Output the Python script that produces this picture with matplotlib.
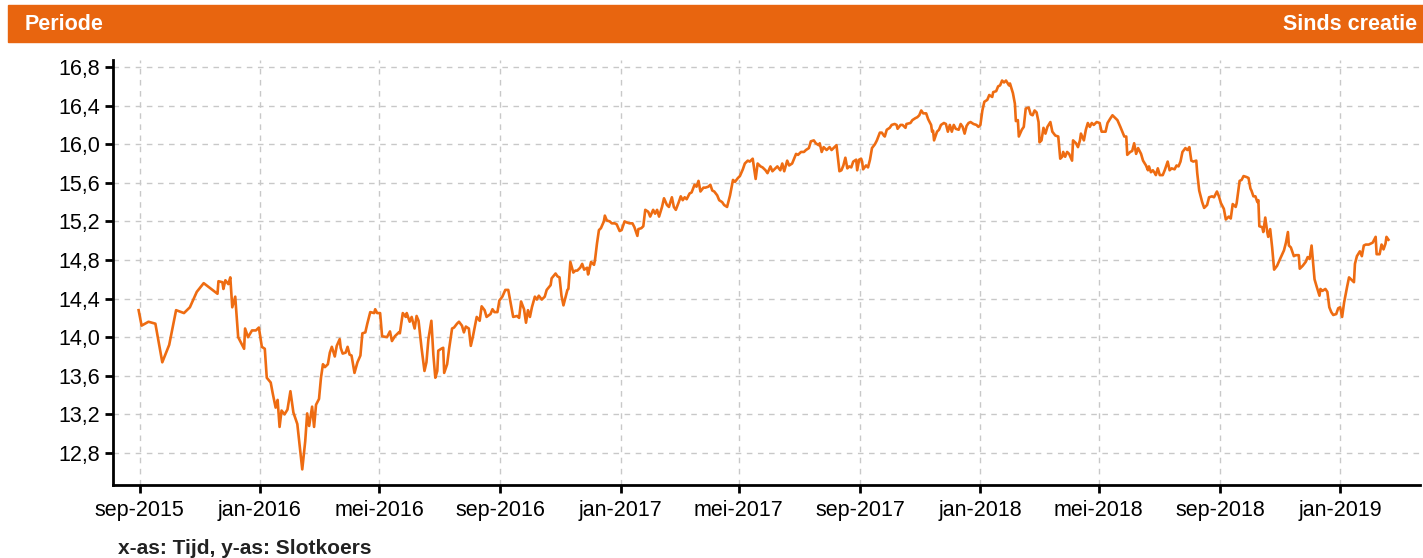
import numpy as np
import pandas as pd
import matplotlib
matplotlib.use("Agg")
import matplotlib.pyplot as plt
from matplotlib.ticker import FuncFormatter

plt.rcParams["font.family"] = ["Liberation Sans", "DejaVu Sans"]

# koersdata, dagen gerekend vanaf 1 september 2015
start = pd.Timestamp("2015-09-01")
day_offset = [
    -1, 2, 9, 16, 23, 30, 37, 45, 51, 58, 65, 79, 80, 84, 85, 87, 90, 92, 94, 97,
    100, 106, 107, 110, 114, 118, 121, 124, 127, 129, 133, 135, 138, 140, 142, 144,
    147, 150, 153, 156, 160, 162, 165, 168, 170, 172, 175, 177, 179, 182, 184, 186,
    188, 191, 193, 195, 198, 200, 203, 204, 206, 209, 211, 213, 215, 218, 221, 224,
    226, 229, 231, 234, 238, 239, 241, 244, 246, 251, 254, 256, 259, 263, 264, 267,
    270, 271, 274, 276, 279, 281, 283, 286, 289, 291, 293, 296, 298, 300, 302, 303,
    306, 308, 309, 312, 314, 317, 319, 322, 324, 327, 329, 331, 334, 336, 338, 342,
    345, 347, 350, 352, 356, 358, 360, 363, 365, 368, 371, 374, 376, 379, 383, 385,
    387, 390, 392, 394, 396, 398, 401, 403, 405, 408, 411, 413, 417, 418, 422, 424,
    426, 428, 430, 434, 435, 437, 440, 442, 444, 447, 449, 451, 454, 455, 458, 461,
    462, 464, 466, 468, 471, 472, 474, 477, 479, 482, 484, 487, 489, 492, 494, 497,
    500, 502, 505, 506, 509, 511, 513, 516, 518, 521, 523, 525, 527, 530, 532, 535,
    537, 540, 542, 544, 547, 549, 551, 553, 555, 558, 560, 563, 565, 567, 569, 572,
    574, 577, 579, 581, 583, 586, 588, 591, 593, 596, 599, 602, 604, 607, 609, 612,
    614, 617, 619, 622, 625, 627, 630, 632, 635, 637, 640, 642, 645, 647, 650, 652,
    654, 657, 659, 662, 664, 666, 668, 671, 674, 676, 679, 681, 684, 686, 689, 690,
    692, 694, 697, 700, 702, 705, 707, 710, 712, 714, 716, 718, 720, 722, 724, 727,
    728, 730, 732, 733, 734, 737, 739, 741, 743, 746, 748, 751, 753, 755, 756, 758,
    761, 763, 766, 768, 769, 772, 774, 777, 778, 782, 784, 787, 789, 791, 793, 795,
    798, 800, 803, 804, 805, 806, 809, 811, 813, 816, 818, 820, 822, 824, 826, 828,
    831, 833, 835, 837, 839, 841, 843, 846, 849, 851, 853, 855, 857, 860, 862, 865,
    866, 869, 871, 873, 875, 877, 879, 882, 883, 886, 888, 889, 891, 892, 895, 897,
    899, 902, 904, 906, 908, 910, 912, 913, 915, 917, 919, 921, 924, 926, 929, 932,
    934, 936, 937, 939, 941, 943, 946, 947, 950, 952, 954, 955, 958, 960, 962, 964,
    966, 968, 971, 974, 976, 980, 982, 985, 987, 990, 992, 995, 997, 999, 1001, 1002,
    1005, 1007, 1009, 1011, 1013, 1016, 1018, 1021, 1023, 1024, 1026, 1028, 1030, 1031,
    1033, 1035, 1038, 1040, 1043, 1045, 1047, 1050, 1052, 1054, 1056, 1058, 1061, 1063,
    1065, 1067, 1069, 1072, 1073, 1075, 1078, 1080, 1083, 1085, 1088, 1090, 1093, 1095,
    1097, 1100, 1102, 1105, 1107, 1109, 1112, 1113, 1116, 1118, 1120, 1123, 1125, 1127,
    1128, 1130, 1132, 1134, 1135, 1136, 1139, 1140, 1142, 1144, 1145, 1147, 1149, 1151,
    1154, 1157, 1161, 1163, 1165, 1166, 1168, 1171, 1173, 1176, 1177, 1180, 1183, 1185,
    1187, 1189, 1190, 1192, 1194, 1197, 1198, 1200, 1203, 1205, 1207, 1209, 1211, 1214,
    1216, 1218, 1220, 1222, 1225, 1227, 1229, 1232, 1233, 1235, 1238, 1240, 1242, 1244,
    1247, 1249, 1251, 1254, 1255, 1258, 1260, 1262, 1264, 1265, 1267,
]
slotkoers = [
    14.28, 14.12, 14.16, 14.14, 13.74, 13.92, 14.28, 14.25, 14.31, 14.47, 14.56, 14.45, 14.58, 14.57, 14.50, 14.59, 14.55, 14.62, 14.31, 14.42,
    14.00, 13.88, 14.09, 14.00, 14.07, 14.07, 14.10, 13.90, 13.88, 13.58, 13.53, 13.42, 13.27, 13.35, 13.07, 13.24,
    13.20, 13.25, 13.44, 13.22, 13.10, 12.91, 12.63, 12.92, 13.21, 13.08, 13.28, 13.07, 13.30, 13.36, 13.58, 13.72,
    13.69, 13.72, 13.84, 13.90, 13.80, 13.91, 13.98, 13.89, 13.83, 13.84, 13.90, 13.82, 13.81, 13.63, 13.74, 13.81,
    14.04, 14.05, 14.14, 14.26, 14.25, 14.29, 14.25, 14.25, 14.01, 14.00, 14.06, 13.96, 14.01, 14.05, 14.04, 14.25,
    14.21, 14.25, 14.16, 14.21, 14.09, 14.22, 14.17, 13.89, 13.65, 13.74, 13.98, 14.17, 13.82, 13.58, 13.65, 13.86,
    13.88, 13.89, 13.63, 13.72, 13.88, 14.09, 14.10, 14.14, 14.16, 14.12, 14.05, 14.11, 14.09, 13.91, 14.00, 14.21,
    14.17, 14.32, 14.28, 14.21, 14.24, 14.29, 14.26, 14.26, 14.38, 14.42, 14.49, 14.49, 14.38, 14.21, 14.22, 14.20,
    14.37, 14.29, 14.15, 14.28, 14.21, 14.31, 14.42, 14.39, 14.43, 14.39, 14.42, 14.49, 14.54, 14.61, 14.66, 14.63,
    14.62, 14.43, 14.33, 14.49, 14.50, 14.78, 14.67, 14.69, 14.69, 14.72, 14.76, 14.70, 14.72, 14.65, 14.78, 14.75,
    14.80, 14.97, 15.11, 15.13, 15.20, 15.26, 15.21, 15.20, 15.18, 15.18, 15.17, 15.10, 15.11, 15.20, 15.19, 15.18,
    15.18, 15.14, 15.05, 15.12, 15.13, 15.15, 15.32, 15.30, 15.25, 15.32, 15.28, 15.32, 15.25, 15.35, 15.44, 15.37,
    15.35, 15.45, 15.35, 15.32, 15.40, 15.46, 15.42, 15.45, 15.43, 15.49, 15.50, 15.58, 15.56, 15.62, 15.51, 15.55,
    15.55, 15.56, 15.58, 15.52, 15.51, 15.47, 15.42, 15.40, 15.37, 15.35, 15.47, 15.63, 15.61, 15.65, 15.67, 15.74,
    15.80, 15.83, 15.82, 15.85, 15.64, 15.80, 15.77, 15.76, 15.73, 15.70, 15.77, 15.72, 15.75, 15.77, 15.73, 15.80,
    15.72, 15.83, 15.78, 15.80, 15.85, 15.90, 15.89, 15.92, 15.92, 15.94, 15.96, 16.03, 16.04, 16.01, 15.99, 16.01,
    15.92, 15.97, 15.94, 15.97, 15.94, 15.97, 15.99, 15.72, 15.73, 15.78, 15.86, 15.75, 15.77, 15.76, 15.82, 15.84,
    15.73, 15.84, 15.85, 15.82, 15.74, 15.78, 15.76, 15.84, 15.96, 16.00, 16.04, 16.12, 16.12, 16.09, 16.08, 16.15,
    16.17, 16.20, 16.21, 16.20, 16.16, 16.20, 16.20, 16.17, 16.21, 16.22, 16.25, 16.27, 16.28, 16.30, 16.35, 16.32,
    16.32, 16.26, 16.20, 16.13, 16.14, 16.04, 16.13, 16.15, 16.20, 16.22, 16.21, 16.13, 16.20, 16.13, 16.20, 16.16,
    16.15, 16.21, 16.18, 16.11, 16.19, 16.22, 16.23, 16.21, 16.20, 16.18, 16.20, 16.35, 16.44, 16.46, 16.51, 16.49,
    16.54, 16.55, 16.60, 16.61, 16.66, 16.64, 16.66, 16.61, 16.63, 16.53, 16.42, 16.24, 16.25, 16.08, 16.15, 16.18,
    16.37, 16.38, 16.31, 16.30, 16.35, 16.33, 16.23, 16.02, 16.04, 16.17, 16.11, 16.18, 16.23, 16.13, 16.09, 16.08,
    15.85, 15.87, 15.92, 15.87, 15.92, 15.90, 15.83, 16.04, 16.01, 15.97, 16.04, 16.11, 16.04, 16.15, 16.22, 16.18,
    16.22, 16.20, 16.23, 16.22, 16.13, 16.13, 16.22, 16.27, 16.30, 16.27, 16.25, 16.18, 16.13, 16.08, 16.08, 15.89,
    15.92, 15.93, 16.01, 15.90, 15.96, 15.90, 15.83, 15.78, 15.73, 15.77, 15.71, 15.73, 15.70, 15.68,
    15.75, 15.68, 15.68, 15.73, 15.82, 15.73, 15.75, 15.74, 15.78, 15.77, 15.82, 15.92, 15.96, 15.94,
    15.97, 15.83, 15.82, 15.83, 15.70, 15.52, 15.40, 15.34, 15.37, 15.45, 15.46, 15.45, 15.51, 15.46,
    15.39, 15.33, 15.22, 15.25, 15.23, 15.38, 15.35, 15.39, 15.62, 15.63, 15.67, 15.66, 15.65, 15.54,
    15.52, 15.46, 15.46, 15.40, 15.42, 15.15, 15.14, 15.09, 15.24, 15.09, 15.04, 15.12, 14.93, 14.70,
    14.74, 14.81, 14.90, 14.98, 15.09, 14.95, 14.93, 14.84, 14.85, 14.85, 14.71, 14.74, 14.78, 14.83,
    14.81, 14.95, 14.83, 14.60, 14.53, 14.43, 14.50, 14.48, 14.50, 14.47, 14.31, 14.26, 14.23, 14.24,
    14.30, 14.31, 14.21, 14.36, 14.52, 14.62, 14.60, 14.57, 14.76, 14.84, 14.89, 14.84, 14.95, 14.96,
    14.96, 14.97, 14.98, 15.04, 14.86, 14.86, 14.96, 14.91, 14.97, 15.04, 15.01,
]

y_ticks = [12.8, 13.2, 13.6, 14.0, 14.4, 14.8, 15.2, 15.6, 16.0, 16.4, 16.8]
x_ticks = pd.date_range("2015-09-01", "2019-01-01", freq="4MS")
maanden = {1: "jan", 5: "mei", 9: "sep"}

datum = start + pd.to_timedelta(day_offset, unit="D")
oranje = "#e8650f"

fig = plt.figure(figsize=(14.23, 5.58), dpi=100)

# kopbalk
fig.patches.append(plt.Rectangle((8 / 1423, 1 - 42 / 558), 1 - 8 / 1423, 37 / 558,
                                 transform=fig.transFigure, color=oranje, zorder=0))
fig.text(25 / 1423, 1 - 24 / 558, "Periode", color="white", fontsize=15.5,
         fontweight="bold", va="center", ha="left")
fig.text(1417 / 1423, 1 - 24 / 558, "Sinds creatie", color="white", fontsize=15.5,
         fontweight="bold", va="center", ha="right")

ax = fig.add_axes([113 / 1423, 73 / 558, 1307 / 1423, 425 / 558])
ax.plot(datum, slotkoers, color="#ee6c12", lw=1.9, zorder=3)

ax.set_ylim(12.468, 16.873)
ax.set_xlim(pd.Timestamp("2015-08-05"), pd.Timestamp("2019-03-23"))
ax.set_yticks(y_ticks)
ax.yaxis.set_major_formatter(FuncFormatter(lambda v, p: f"{v:.1f}".replace(".", ",")))
ax.set_xticks(x_ticks)
ax.set_xticklabels([f"{maanden[d.month]}-{d.year}" for d in x_ticks])

ax.grid(True, color="#c8c8c8", linestyle=(0, (4, 4)), lw=1)
for s in ["top", "right"]:
    ax.spines[s].set_visible(False)
for s in ["left", "bottom"]:
    ax.spines[s].set_linewidth(2)
ax.tick_params(axis="both", labelsize=15.5, length=6, width=2, color="black")
ax.tick_params(axis="x", pad=5)

fig.text(118 / 1423, 1 - 548 / 558, "x-as: Tijd, y-as: Slotkoers", fontsize=15,
         fontweight="bold", color="#222222", va="center", ha="left")

fig.savefig("out.png", dpi=100)
